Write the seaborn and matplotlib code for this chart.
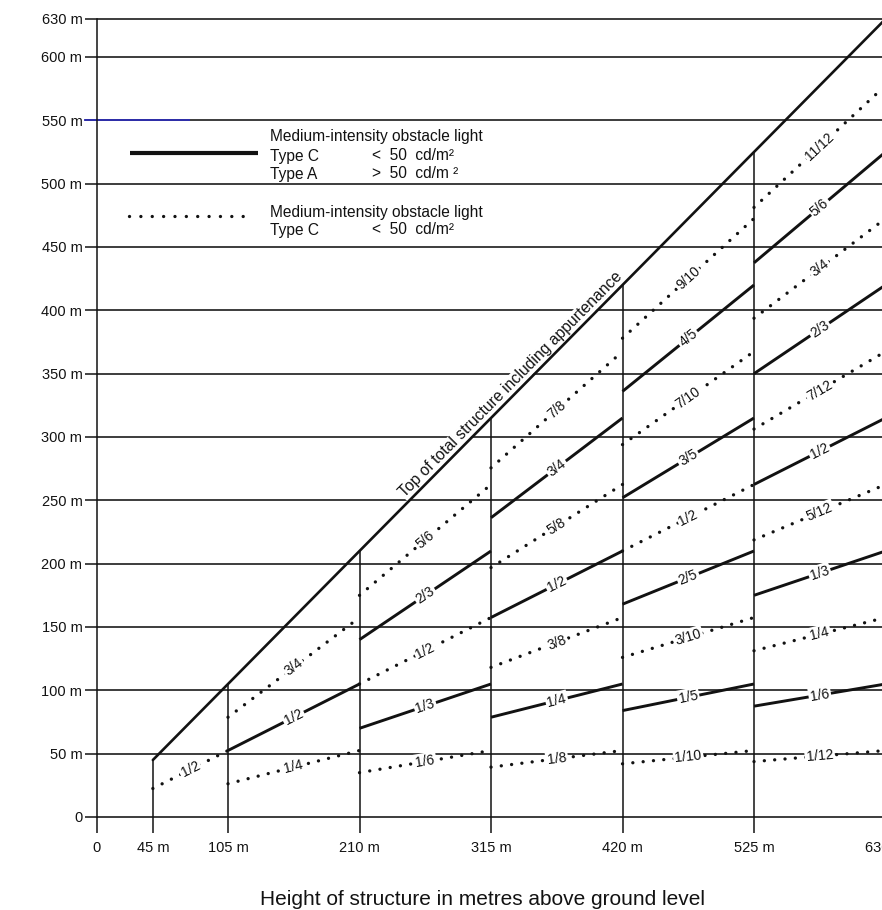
import numpy as np
import pandas as pd
import matplotlib
matplotlib.use("Agg")
import matplotlib.pyplot as plt
import seaborn as sns

# ---------------- data ----------------
# structure height bands (m) and the light levels drawn in each band
seg_start = [45, 105, 210, 315, 420, 525]
seg_end = [105, 210, 315, 420, 525, 630]
labels_45 = ["1/2"]
labels_105 = ["1/4", "1/2", "3/4"]
labels_210 = ["1/6", "1/3", "1/2", "2/3", "5/6"]
labels_315 = ["1/8", "1/4", "3/8", "1/2", "5/8", "3/4", "7/8"]
labels_420 = ["1/10", "1/5", "3/10", "2/5", "1/2", "3/5", "7/10", "4/5", "9/10"]
labels_525 = ["1/12", "1/6", "1/4", "1/3", "5/12", "1/2", "7/12", "2/3", "3/4", "5/6", "11/12"]
# light type of each level: "C" = Type C only (dotted), "AC" = Type C / Type A (solid)
types_45 = ["C"]
types_105 = ["C", "AC", "C"]
types_210 = ["C", "AC", "C", "AC", "C"]
types_315 = ["C", "AC", "C", "AC", "C", "AC", "C"]
types_420 = ["C", "AC", "C", "AC", "C", "AC", "C", "AC", "C"]
types_525 = ["C", "AC", "C", "AC", "C", "AC", "C", "AC", "C", "AC", "C"]
# top of structure line
top_x = [45, 630]
top_y = [45, 630]

x_ticks = [0, 45, 105, 210, 315, 420, 525, 630]
x_ticklabels = ["0", "45 m", "105 m", "210 m", "315 m", "420 m", "525 m", "630 m"]
y_ticks = [0, 50, 100, 150, 200, 250, 300, 350, 400, 450, 500, 550, 600, 630]
y_ticklabels = ["0", "50 m", "100 m", "150 m", "200 m", "250 m", "300 m", "350 m",
                "400 m", "450 m", "500 m", "550 m", "600 m", "630 m"]

x_label = "Height of structure in metres above ground level"
top_label = "Top of total structure including appurtenance"
legend_title = "Medium-intensity obstacle light"

# ---------------- build table ----------------
all_labels = [labels_45, labels_105, labels_210, labels_315, labels_420, labels_525]
all_types = [types_45, types_105, types_210, types_315, types_420, types_525]
rows = []
lid = 0
for s, e, labs, typs in zip(seg_start, seg_end, all_labels, all_types):
    for lab, typ in zip(labs, typs):
        num, den = lab.split("/")
        f = float(num) / float(den)
        rows.append(dict(line=lid, x=s, y=f * s, kind=typ, label=lab, frac=f, s=s, e=e))
        rows.append(dict(line=lid, x=e, y=f * e, kind=typ, label=lab, frac=f, s=s, e=e))
        lid += 1
df = pd.DataFrame(rows)
df_top = pd.DataFrame(dict(x=top_x, y=top_y, line=0))

# ---------------- figure ----------------
sns.set_theme(style="white")
plt.rcParams["font.family"] = ["Liberation Sans", "DejaVu Sans"]
INK = "#121212"

W, H = 882, 910
fig = plt.figure(figsize=(W / 100, H / 100), dpi=100)
px_x0, px_sx = 96.5, 1.2524      # pixel of x=0, px per metre
px_y0, px_sy = 817.0, 1.2667     # pixel of y=0, px per metre
ax = fig.add_axes([px_x0 / W, (H - px_y0) / H, 630 * px_sx / W, 630 * px_sy / H])
ax.set_xlim(0, 630)
ax.set_ylim(0, 630)
ax.set_facecolor("white")

# horizontal reference lines
ax.hlines(y_ticks, 0, 630, color=INK, lw=1.15, zorder=1, clip_on=False)
ax.hlines([550], -9.6, 75, color="#2d2db4", lw=1.3, zorder=1.5, clip_on=False)
# vertical band boundaries up to top of structure
ax.vlines(seg_start, 0, seg_start, color=INK, lw=1.1, zorder=2)

# light level lines
solid = df[df["kind"] == "AC"]
dotted = df[df["kind"] == "C"]
sns.lineplot(data=solid, x="x", y="y", units="line", estimator=None, sort=False,
             color=INK, lw=2.1, legend=False, ax=ax, zorder=4, solid_capstyle="butt")
sns.lineplot(data=dotted, x="x", y="y", units="line", estimator=None, sort=False,
             color=INK, lw=2.4, legend=False, ax=ax, zorder=4,
             linestyle=(0, (0.01, 3.1)), dash_capstyle="round")
sns.lineplot(data=df_top, x="x", y="y", units="line", estimator=None, sort=False,
             color=INK, lw=1.9, legend=False, ax=ax, zorder=5)


def disp_angle(x1, y1, x2, y2):
    p1 = ax.transData.transform((x1, y1))
    p2 = ax.transData.transform((x2, y2))
    return np.degrees(np.arctan2(p2[1] - p1[1], p2[0] - p1[0]))


# fraction labels in the middle of each line
for _, g in df.groupby("line"):
    r = g.iloc[0]
    xm = (r["s"] + r["e"]) / 2.0
    ym = r["frac"] * xm
    ang = disp_angle(r["s"], r["frac"] * r["s"], r["e"], r["frac"] * r["e"])
    ax.text(xm, ym, r["label"], rotation=ang, rotation_mode="anchor", ha="center",
            va="center", fontsize=10, color=INK, zorder=6,
            bbox=dict(boxstyle="square,pad=0.12", fc="white", ec="none"))

# label along top-of-structure line
ang_top = disp_angle(top_x[0], top_y[0], top_x[1], top_y[1])
ax.text(331, 341.5, top_label, rotation=ang_top, rotation_mode="anchor", ha="center",
        va="center", fontsize=11.3, color=INK, zorder=3,
        bbox=dict(boxstyle="square,pad=0.05", fc="white", ec="none"))

# legend (drawn in axes-fraction coordinates)
T = ax.transAxes
def fx(px):
    return (px - px_x0) / (630 * px_sx)
def fy(py):
    return (px_y0 - py) / (630 * px_sy)

ax.plot([fx(130), fx(258)], [fy(153), fy(153)], transform=T, color=INK, lw=3.0,
        solid_capstyle="butt", zorder=6)
ax.plot([fx(129), fx(250)], [fy(216), fy(216)], transform=T, color=INK, lw=2.4,
        linestyle=(0, (0.01, 3.4)), dash_capstyle="round", zorder=6)
leg_fs = 11.2
for txt, px, py in [(legend_title, 270, 137), ("Type C", 270, 156), ("Type A", 270, 174),
                    ("<  50  cd/m²", 372, 156), (">  50  cd/m ²", 372, 174),
                    (legend_title, 270, 212), ("Type C", 270, 230), ("<  50  cd/m²", 372, 230)]:
    ax.text(fx(px), fy(py), txt, transform=T, ha="left", va="center", fontsize=leg_fs,
            color=INK, zorder=6)

# ticks
ax.set_xticks(x_ticks, x_ticklabels)
ax.set_yticks(y_ticks, y_ticklabels)
ax.tick_params(axis="x", direction="out", length=11.5, width=1.1, color=INK, pad=6,
               labelsize=10.5, labelcolor=INK, bottom=True)
ax.tick_params(axis="y", direction="out", length=8.6, width=1.1, color=INK, pad=1.5,
               labelsize=10.5, labelcolor=INK, left=True)
ax.yaxis.get_major_ticks()[11].tick1line.set_color("#2d2db4")
ax.grid(False)
for side in ["top", "right", "bottom"]:
    ax.spines[side].set_visible(False)
ax.spines["left"].set_color(INK)
ax.spines["left"].set_linewidth(1.1)

ax.set_xlabel(x_label, fontsize=15, color=INK)
ax.set_ylabel("")
ax.xaxis.label.set_va("baseline")
ax.xaxis.set_label_coords((482.5 - px_x0) / (630 * px_sx), (px_y0 - 905) / (630 * px_sy))

fig.savefig("out.png", dpi=100, facecolor="white")
